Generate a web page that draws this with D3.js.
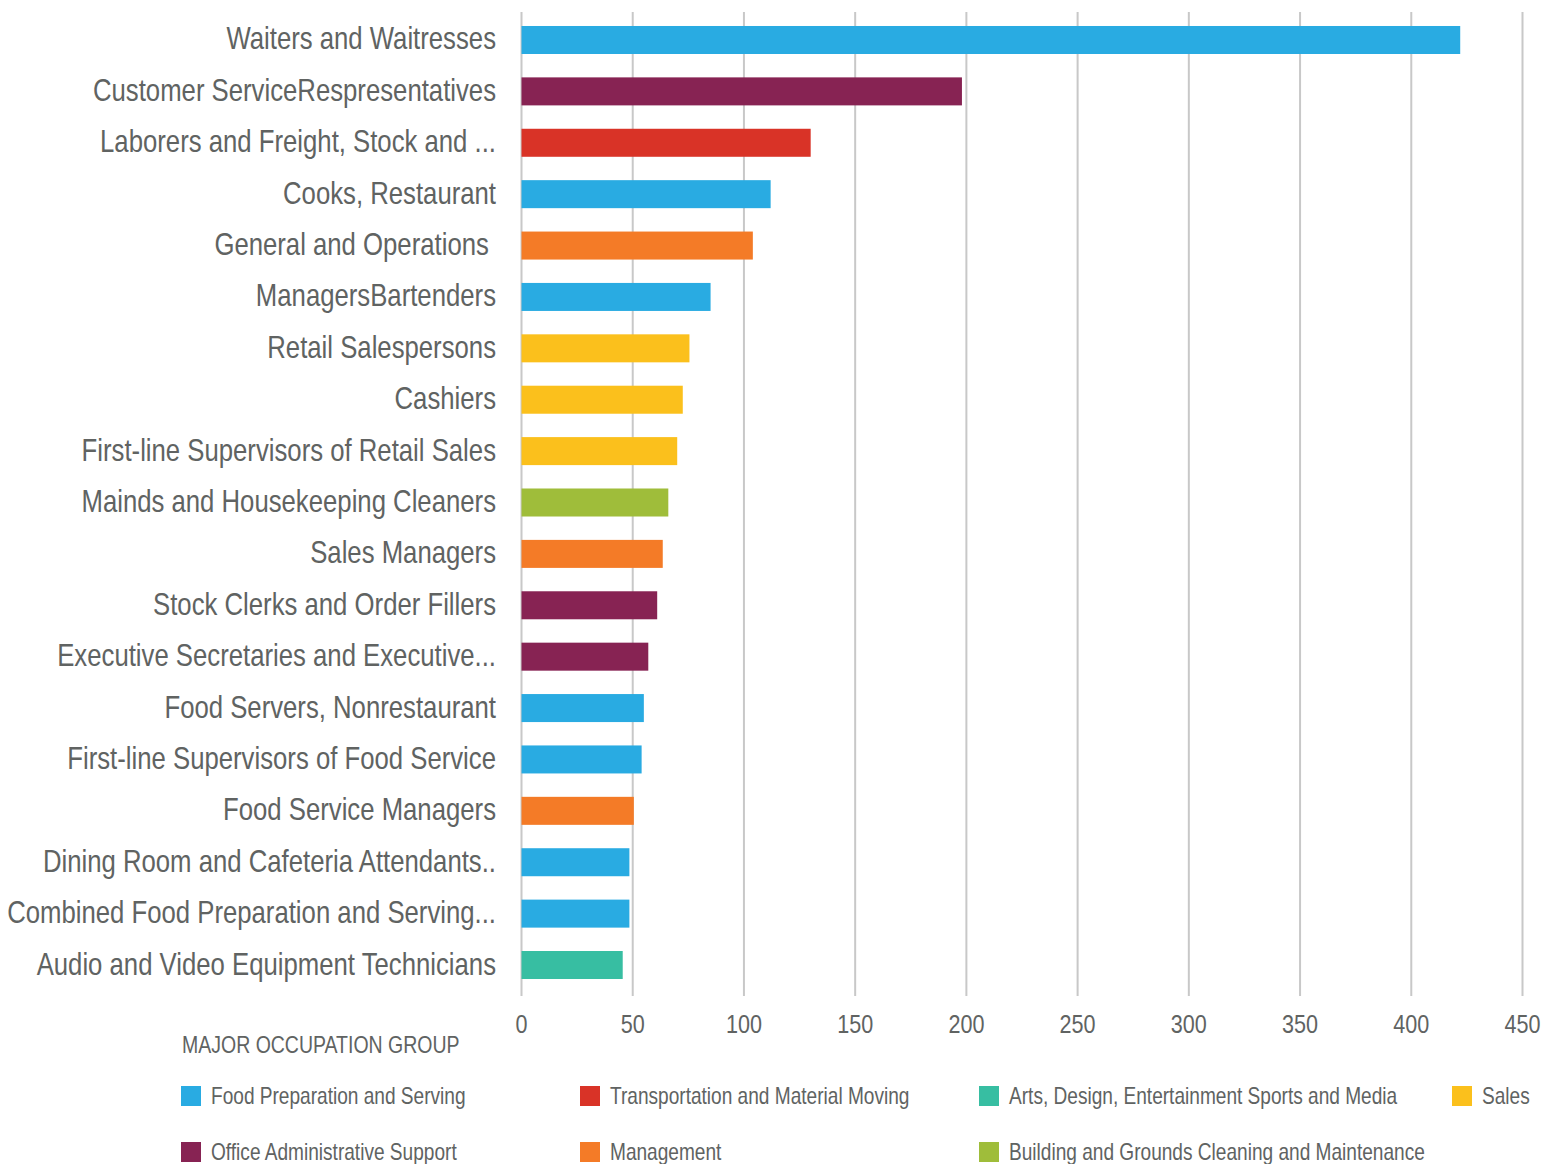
<!DOCTYPE html>
<html>
<head>
<meta charset="utf-8">
<script src="https://cdn.jsdelivr.net/npm/d3@7"></script>
<style>
  body { margin: 0; background: #fff; }
  text { font-family: "Liberation Sans", Arial, sans-serif; fill: #606362; white-space: pre; }
</style>
</head>
<body>
<script>
// occupations, top to bottom
var occupations = [
  "Waiters and Waitresses",
  "Customer ServiceRespresentatives",
  "Laborers and Freight, Stock and ...",
  "Cooks, Restaurant",
  "General and Operations ",
  "ManagersBartenders",
  "Retail Salespersons",
  "Cashiers",
  "First-line Supervisors of Retail Sales",
  "Mainds and Housekeeping Cleaners",
  "Sales Managers",
  "Stock Clerks and Order Fillers",
  "Executive Secretaries and Executive...",
  "Food Servers, Nonrestaurant",
  "First-line Supervisors of Food Service",
  "Food Service Managers",
  "Dining Room and Cafeteria Attendants..",
  "Combined Food Preparation and Serving...",
  "Audio and Video Equipment Technicians"
];
var values = [422, 198, 130, 112, 104, 85, 75.5, 72.5, 70, 66, 63.5, 61, 57, 55, 54, 50.5, 48.5, 48.5, 45.5];
var groupOf = [
  "Food Preparation and Serving",
  "Office Administrative Support",
  "Transportation and Material Moving",
  "Food Preparation and Serving",
  "Management",
  "Food Preparation and Serving",
  "Sales",
  "Sales",
  "Sales",
  "Building and Grounds Cleaning and Maintenance",
  "Management",
  "Office Administrative Support",
  "Office Administrative Support",
  "Food Preparation and Serving",
  "Food Preparation and Serving",
  "Management",
  "Food Preparation and Serving",
  "Food Preparation and Serving",
  "Arts, Design, Entertainment Sports and Media"
];
var groups = [
  "Food Preparation and Serving",
  "Transportation and Material Moving",
  "Arts, Design, Entertainment Sports and Media",
  "Sales",
  "Office Administrative Support",
  "Management",
  "Building and Grounds Cleaning and Maintenance"
];
var groupColors = ["#29abe2", "#d93327", "#37bea2", "#fbc01c", "#872353", "#f47b27", "#9fbd3a"];
var xTicks = [0, 50, 100, 150, 200, 250, 300, 350, 400, 450];

var width = 1548, height = 1164;
var narrow = 0.83; // the original font is a condensed face

var svg = d3.select("body").append("svg")
    .attr("width", width)
    .attr("height", height);

var color = d3.scaleOrdinal().domain(groups).range(groupColors);

var x = d3.scaleLinear().domain([0, 450]).range([521.5, 1522.5]);
var y = d3.scaleBand().domain(occupations).range([14.3, 990.7]).paddingInner(0.455).paddingOuter(0.2275);

function place(px, py) {
  return "translate(" + px + "," + py + ") scale(" + narrow + ",1)";
}

// gridlines
svg.append("g").selectAll("line")
    .data(xTicks)
  .enter().append("line")
    .attr("x1", function(d) { return x(d); })
    .attr("x2", function(d) { return x(d); })
    .attr("y1", 12)
    .attr("y2", 996)
    .attr("stroke", "#c8c8c8")
    .attr("stroke-width", 2);

// bars
svg.append("g").selectAll("rect")
    .data(occupations)
  .enter().append("rect")
    .attr("x", x(0))
    .attr("y", function(d) { return y(d); })
    .attr("width", function(d, i) { return x(values[i]) - x(0); })
    .attr("height", y.bandwidth())
    .attr("fill", function(d, i) { return color(groupOf[i]); });

// category labels
svg.append("g").selectAll("text")
    .data(occupations)
  .enter().append("text")
    .attr("transform", function(d) { return place(496, y(d) + y.bandwidth() / 2 + 9.5); })
    .attr("text-anchor", "end")
    .style("font-size", "31px")
    .text(function(d) { return d; });

// x tick labels
svg.append("g").selectAll("text")
    .data(xTicks)
  .enter().append("text")
    .attr("transform", function(d) { return place(x(d), 1033); })
    .attr("text-anchor", "middle")
    .style("font-size", "26px")
    .text(function(d) { return d; });

// legend
svg.append("text")
    .attr("transform", place(182, 1053))
    .style("font-size", "23.5px")
    .text("MAJOR OCCUPATION GROUP");

var legendX = [181, 580, 979, 1452];
var legend = svg.append("g").selectAll("g")
    .data(groups)
  .enter().append("g")
    .attr("transform", function(d, i) {
      return "translate(" + legendX[i % 4] + "," + (1086 + Math.floor(i / 4) * 56) + ")";
    });
legend.append("rect")
    .attr("width", 20)
    .attr("height", 20)
    .attr("fill", function(d) { return color(d); });
legend.append("text")
    .attr("transform", place(30, 18))
    .style("font-size", "23px")
    .text(function(d) { return d; });
</script>
</body>
</html>
